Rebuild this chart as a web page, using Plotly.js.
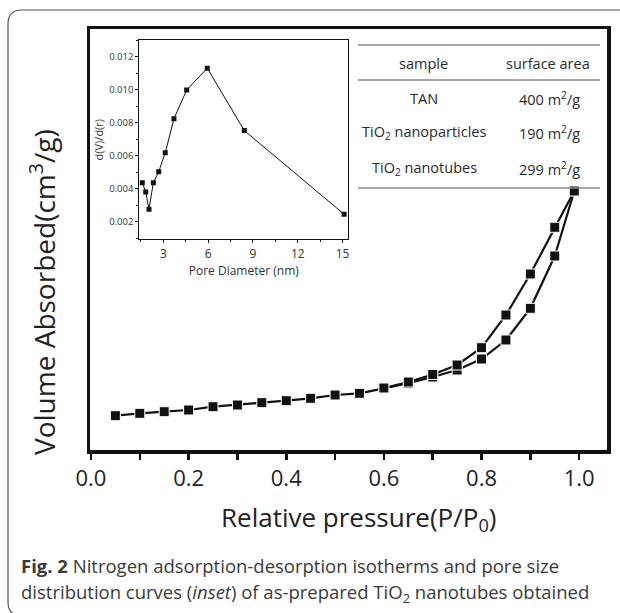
<!DOCTYPE html>
<html>
<head>
<meta charset="utf-8">
<script src="https://cdn.plot.ly/plotly-3.0.1.min.js"></script>
<style>
html,body{margin:0;padding:0;background:#fff;}
#chart{width:620px;height:613px;}
</style>
</head>
<body>
<div id="chart"></div>
<script>
// Main isotherm (relative pressure vs. volume adsorbed, arbitrary units)
const pressureAds = [0.05,0.10,0.15,0.20,0.25,0.30,0.35,0.40,0.45,0.50,0.55,0.60,0.65,0.70,0.75,0.80,0.85,0.90,0.95,0.99];
const volumeAds   = [34.3,36.7,38.3,40.0,43.3,45.0,47.3,49.3,51.7,55.0,56.7,61.7,66.7,73.0,80.0,91.0,110.0,141.7,194.0,259.0];
const pressureDes = [0.99,0.95,0.90,0.85,0.80,0.75,0.70,0.65,0.60];
const volumeDes   = [259.0,222.7,176.0,135.0,102.3,85.0,75.5,68.0,62.0];

// Inset: pore size distribution
const poreDiameter = [1.59,1.82,2.04,2.33,2.69,3.13,3.71,4.56,5.94,8.42,15.1];
const dVdr         = [0.00436,0.00380,0.00275,0.00436,0.00503,0.00618,0.00824,0.00998,0.01130,0.00752,0.00245];

// Table
const tableHeader = ["sample","surface area"];
const tableSamples = ["TAN","TiO<sub>2</sub> nanoparticles","TiO<sub>2</sub> nanotubes"];
const tableAreas = ["400 m<sup>2</sup>/g","190 m<sup>2</sup>/g","299 m<sup>2</sup>/g"];

const captionLines = [
  "<b>Fig. 2</b> Nitrogen adsorption-desorption isotherms and pore size",
  "distribution curves (<i>inset</i>) of as-prepared TiO<sub>2</sub> nanotubes obtained"
];

// pixel helpers (plot area: x 90..607, y 29..450)
const L=90, R=607, T=29, B=450, W=R-L, H=B-T;
const px = x => (x-L)/W;
const py = y => (B-y)/H;

const mainMarker = {symbol:'square', size:10, color:'#111', line:{color:'#fff', width:1}};
const traces = [
  {x: pressureAds, y: volumeAds, mode:'lines+markers', xaxis:'x', yaxis:'y',
   line:{color:'#111', width:2.2}, marker:mainMarker},
  {x: pressureDes, y: volumeDes, mode:'lines+markers', xaxis:'x', yaxis:'y',
   line:{color:'#111', width:2.2}, marker:mainMarker},
  {x: poreDiameter, y: dVdr, mode:'lines+markers', xaxis:'x2', yaxis:'y2',
   line:{color:'#111', width:1}, marker:{symbol:'square', size:5, color:'#111'}}
];

const font = 'Open Sans, sans-serif';
const annotations = [];
const tableFont = {family:font, size:14.5, color:'#2a2a2a'};
const rowY = [63, 98, 132, 168];
annotations.push({xref:'paper', yref:'paper', x:px(423), y:py(rowY[0]), text:tableHeader[0], showarrow:false, font:tableFont, xanchor:'center', yanchor:'middle'});
annotations.push({xref:'paper', yref:'paper', x:px(548), y:py(rowY[0]), text:tableHeader[1], showarrow:false, font:tableFont, xanchor:'center', yanchor:'middle'});
for (let i=0;i<tableSamples.length;i++){
  annotations.push({xref:'paper', yref:'paper', x:px(424), y:py(rowY[i+1]), text:tableSamples[i], showarrow:false, font:tableFont, xanchor:'center', yanchor:'middle'});
  annotations.push({xref:'paper', yref:'paper', x:px(549), y:py(rowY[i+1]), text:tableAreas[i], showarrow:false, font:tableFont, xanchor:'center', yanchor:'middle'});
}
// y title
annotations.push({xref:'paper', yref:'paper', x:px(42), y:py(292), text:'Volume Absorbed(cm<sup>3</sup>/g)', textangle:-90, showarrow:false,
  font:{family:font, size:28, color:'#222'}, xanchor:'center', yanchor:'middle'});
// x title
annotations.push({xref:'paper', yref:'paper', x:px(358), y:py(518), text:'Relative pressure(P/P<sub>0</sub>)', showarrow:false,
  font:{family:font, size:26, color:'#222'}, xanchor:'center', yanchor:'middle'});
// caption
annotations.push({xref:'paper', yref:'paper', x:px(19), y:py(565), text:captionLines[0], showarrow:false, xanchor:'left', yanchor:'middle', align:'left',
  font:{family:font, size:18.5, color:'#3a3a3a'}});
annotations.push({xref:'paper', yref:'paper', x:px(19), y:py(593), text:captionLines[1], showarrow:false, xanchor:'left', yanchor:'middle', align:'left',
  font:{family:font, size:18.5, color:'#3a3a3a'}});

const lineStyle = {color:'#8a8a8a', width:1.5};
const shapes = [45, 80, 188].map(y => ({type:'line', xref:'paper', yref:'paper', x0:px(358), x1:px(600), y0:py(y), y1:py(y), line:lineStyle}));
// outer rounded card border
const x0=px(8), xr=px(640), yt=py(10), yb=py(616), rx=14/W, ry=14/H;
shapes.push({type:'path', xref:'paper', yref:'paper',
  path:`M ${xr} ${yt} L ${x0+rx} ${yt} Q ${x0} ${yt} ${x0} ${yt-ry} L ${x0} ${yb+ry} Q ${x0} ${yb} ${x0+rx} ${yb} L ${xr} ${yb}`,
  line:{color:'#555', width:1.2}});

const layout = {
  width:620, height:613,
  margin:{l:L, r:620-R, t:T, b:613-B, pad:0},
  paper_bgcolor:'#fff', plot_bgcolor:'rgba(0,0,0,0)',
  showlegend:false,
  font:{family:font, color:'#222'},
  xaxis:{domain:[0,1], range:[-0.002,1.057], tick0:0, dtick:0.2, tickformat:'.1f',
    ticks:'outside', ticklen:6, tickwidth:2.5, tickcolor:'#111',
    minor:{dtick:0.1, ticks:'outside', ticklen:6, tickwidth:2.5, tickcolor:'#111', showgrid:false},
    showline:true, mirror:true, linewidth:3.5, linecolor:'#111', showgrid:false, zeroline:false,
    tickfont:{family:font, size:22, color:'#222'}},
  yaxis:{domain:[0,1], range:[0,421], showticklabels:false, ticks:'', showline:true, mirror:true,
    linewidth:3.5, linecolor:'#111', showgrid:false, zeroline:false},
  xaxis2:{anchor:'y2', domain:[px(139.3), px(348.3)], range:[1.39,15.38], tick0:0, dtick:3,
    ticks:'outside', ticklen:3, tickwidth:1, tickcolor:'#111',
    minor:{dtick:1.5, ticks:'outside', ticklen:2, tickwidth:1, tickcolor:'#111', showgrid:false},
    showline:true, mirror:true, linewidth:1, linecolor:'#111', showgrid:false, zeroline:false,
    tickfont:{family:font, size:12, color:'#333'},
    title:{text:'Pore Diameter (nm)', font:{family:font, size:12, color:'#333'}, standoff:1}},
  yaxis2:{anchor:'x2', domain:[py(239.3), py(40)], range:[0.00093,0.01301], tick0:0, dtick:0.002, tickformat:'.3f',
    ticks:'outside', ticklen:3, tickwidth:1, tickcolor:'#111',
    minor:{dtick:0.001, ticks:'outside', ticklen:2, tickwidth:1, tickcolor:'#111', showgrid:false},
    showline:true, mirror:true, linewidth:1, linecolor:'#111', showgrid:false, zeroline:false,
    tickfont:{family:font, size:9.5, color:'#333'},
    title:{text:'d(V)/d(r)', font:{family:font, size:11, color:'#333'}, standoff:3}},
  annotations, shapes
};

Plotly.newPlot('chart', traces, layout, {staticPlot:true, displayModeBar:false});
</script>
</body>
</html>
